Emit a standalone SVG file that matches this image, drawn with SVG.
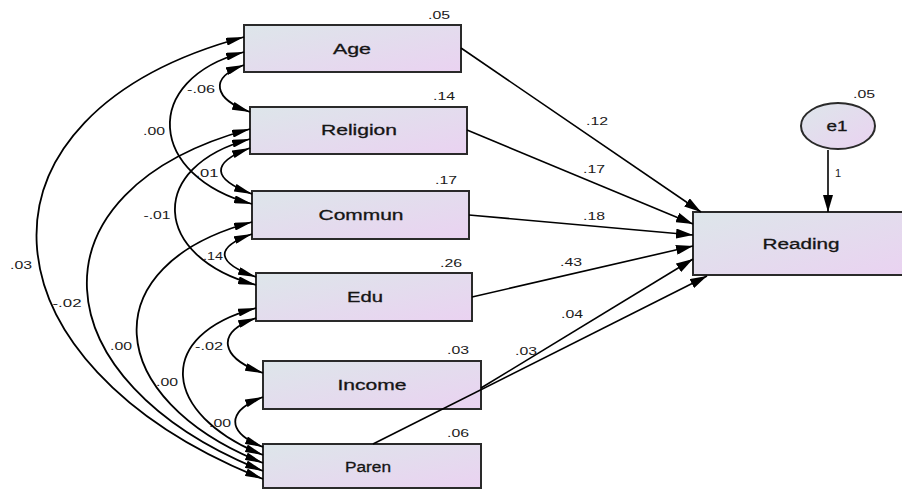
<svg xmlns="http://www.w3.org/2000/svg" width="902" height="491" viewBox="0 0 902 491">
<style>
.box{stroke:#2a2a2a;stroke-width:2;fill:url(#g)}
.lbl{font-family:"Liberation Sans",Arial,sans-serif;font-size:14px;fill:#151515;text-anchor:middle;stroke:#151515;stroke-width:0.3}
.num{font-family:"Liberation Sans",Arial,sans-serif;font-size:11px;fill:#1a1a1a;text-anchor:middle}
.cov{fill:none;stroke:#000;stroke-width:1.8;marker-start:url(#ah);marker-end:url(#ah)}
.pth{fill:none;stroke:#000;stroke-width:1.6;marker-end:url(#ap)}
</style>
<defs>
<linearGradient id="g" x1="0" y1="0" x2="1" y2="1">
<stop offset="0" stop-color="#dde6ea"/>
<stop offset="1" stop-color="#ead2f1"/>
</linearGradient>
<marker id="ah" viewBox="0 0 18 8" refX="18" refY="4" markerWidth="18" markerHeight="8" markerUnits="userSpaceOnUse" orient="auto-start-reverse">
<path d="M0,0 L18,4 L0,8 z" fill="#000"/>
</marker>
<marker id="ap" viewBox="0 0 17 10" refX="17" refY="5" markerWidth="17" markerHeight="10" markerUnits="userSpaceOnUse" orient="auto">
<path d="M0,0 L17,5 L0,10 z" fill="#000"/>
</marker>
</defs>

<g id="age">
<rect class="box" x="244" y="25" width="217" height="47"/>
<text class="lbl" x="352" y="54" textLength="38" lengthAdjust="spacingAndGlyphs">Age</text>
<text class="num" x="439" y="19" textLength="22" lengthAdjust="spacingAndGlyphs">.05</text>
</g>
<g id="religion">
<rect class="box" x="250" y="107" width="217" height="47"/>
<text class="lbl" x="359" y="135" textLength="76" lengthAdjust="spacingAndGlyphs">Religion</text>
<text class="num" x="444" y="100" textLength="22" lengthAdjust="spacingAndGlyphs">.14</text>
</g>
<g id="commun">
<rect class="box" x="252" y="191" width="217" height="48"/>
<text class="lbl" x="361" y="220" textLength="85" lengthAdjust="spacingAndGlyphs">Commun</text>
<text class="num" x="446" y="184" textLength="22" lengthAdjust="spacingAndGlyphs">.17</text>
</g>
<g id="edu">
<rect class="box" x="256" y="273" width="216" height="48"/>
<text class="lbl" x="365" y="302" textLength="36" lengthAdjust="spacingAndGlyphs">Edu</text>
<text class="num" x="451" y="267" textLength="22" lengthAdjust="spacingAndGlyphs">.26</text>
</g>
<g id="income">
<rect class="box" x="263" y="361" width="218" height="48"/>
<text class="lbl" x="372" y="390" textLength="69" lengthAdjust="spacingAndGlyphs">Income</text>
<text class="num" x="458" y="354" textLength="22" lengthAdjust="spacingAndGlyphs">.03</text>
</g>
<g id="paren">
<rect class="box" x="263" y="444" width="218" height="44"/>
<text class="lbl" x="368" y="472" textLength="46" lengthAdjust="spacingAndGlyphs">Paren</text>
<text class="num" x="458" y="437" textLength="22" lengthAdjust="spacingAndGlyphs">.06</text>
</g>
<g id="reading">
<rect class="box" x="693" y="212" width="215" height="63"/>
<text class="lbl" x="801" y="249" textLength="77" lengthAdjust="spacingAndGlyphs">Reading</text>
</g>
<g id="e1">
<ellipse class="box" cx="838" cy="126" rx="37" ry="23"/>
<text class="lbl" x="837" y="131" textLength="21" lengthAdjust="spacingAndGlyphs">e1</text>
<text class="num" x="864" y="98" textLength="22" lengthAdjust="spacingAndGlyphs">.05</text>
</g>

<g id="connectors">
<path class="cov" d="M244,65 C208,78 214,99 250,112"/>
<path class="cov" d="M244,52 C140,80 148,176 252,204"/>
<path class="cov" d="M244,37 C-45,115 -26,364 263,479"/>
<path class="cov" d="M250,148 C210,163 212,179 252,194"/>
<path class="cov" d="M250,139 C146,167 152,257 256,285"/>
<path class="cov" d="M250,129 C24,190 37,381 263,471"/>
<path class="cov" d="M252,234 C213,248 217,263 256,277"/>
<path class="cov" d="M252,222 C91,265 102,399 263,463"/>
<path class="cov" d="M256,308 C154,335 161,414 263,455"/>
<path class="cov" d="M256,318 C214,333 221,358 263,373"/>
<path class="cov" d="M263,397 C226,411 226,432 263,447"/>

<path class="pth" d="M461,48 L701,212"/>
<path class="pth" d="M467,130 L693,224"/>
<path class="pth" d="M469,215 L693,235"/>
<path class="pth" d="M472,297 L693,246"/>
<path class="pth" d="M481,388 L693,259"/>
<path class="pth" d="M373,444 L707,276"/>
<path class="pth" d="M828,150 L828,212"/>

<text class="num" x="201" y="93" textLength="28" lengthAdjust="spacingAndGlyphs">-.06</text>
<text class="num" x="154" y="135" textLength="22" lengthAdjust="spacingAndGlyphs">.00</text>
<text class="num" x="207" y="177" textLength="23" lengthAdjust="spacingAndGlyphs">.01</text>
<text class="num" x="157" y="219" textLength="27" lengthAdjust="spacingAndGlyphs">-.01</text>
<text class="num" x="213" y="260" textLength="20" lengthAdjust="spacingAndGlyphs">.14</text>
<text class="num" x="21" y="269" textLength="22" lengthAdjust="spacingAndGlyphs">.03</text>
<text class="num" x="67" y="307" textLength="29" lengthAdjust="spacingAndGlyphs">-.02</text>
<text class="num" x="121" y="350" textLength="22" lengthAdjust="spacingAndGlyphs">.00</text>
<text class="num" x="167" y="386" textLength="22" lengthAdjust="spacingAndGlyphs">.00</text>
<text class="num" x="209" y="350" textLength="28" lengthAdjust="spacingAndGlyphs">-.02</text>
<text class="num" x="220" y="427" textLength="22" lengthAdjust="spacingAndGlyphs">.00</text>

<text class="num" x="597" y="125" textLength="22" lengthAdjust="spacingAndGlyphs">.12</text>
<text class="num" x="594" y="173" textLength="22" lengthAdjust="spacingAndGlyphs">.17</text>
<text class="num" x="594" y="220" textLength="22" lengthAdjust="spacingAndGlyphs">.18</text>
<text class="num" x="571" y="266" textLength="22" lengthAdjust="spacingAndGlyphs">.43</text>
<text class="num" x="572" y="318" textLength="22" lengthAdjust="spacingAndGlyphs">.04</text>
<text class="num" x="526" y="355" textLength="22" lengthAdjust="spacingAndGlyphs">.03</text>
<text class="num" x="838" y="177" font-size="12">1</text>
</g>
</svg>
